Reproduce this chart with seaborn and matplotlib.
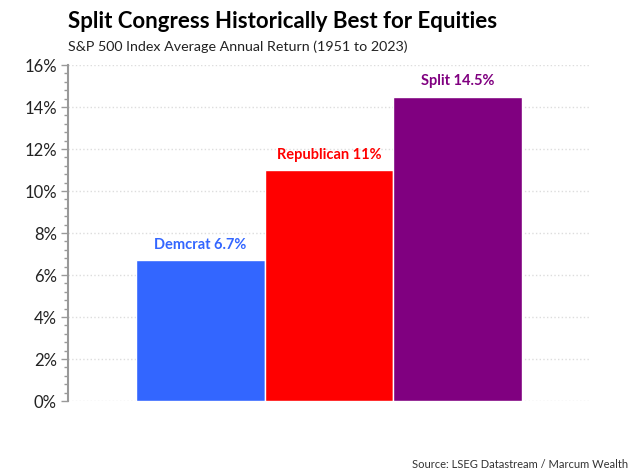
import matplotlib
matplotlib.use("Agg")
import matplotlib.pyplot as plt
import seaborn as sns
import pandas as pd
from matplotlib.ticker import MultipleLocator, FuncFormatter

categories = ["Demcrat", "Republican", "Split"]
values = [6.7, 11.0, 14.5]
label_texts = ["Demcrat 6.7%", "Republican 11%", "Split 14.5%"]
colors = ["#3366FF", "#FF0000", "#800080"]
yticks = [0, 2, 4, 6, 8, 10, 12, 14, 16]

sns.set_theme(style="white")
plt.rcParams['font.family'] = ['Lato', 'DejaVu Sans']

df = pd.DataFrame({"cat": categories, "val": values})

fig = plt.figure(figsize=(6.39, 4.71), dpi=100)
ax = fig.add_axes([68/639, 1-401/471, (591-68)/639, (401-65)/471])

sns.barplot(data=df, x="cat", y="val", hue="cat", palette=colors, width=1.0,
            edgecolor="white", linewidth=1, legend=False, ax=ax, saturation=1)

ax.set_xlim(-1.03, 3.04)
ax.set_ylim(0, 16)
ax.set_yticks(yticks)
ax.yaxis.set_major_formatter(FuncFormatter(lambda v, p: f"{v:.0f}%"))
ax.yaxis.set_minor_locator(MultipleLocator(0.4))
ax.tick_params(axis="y", which="major", length=5, width=1, color="#999999",
               labelsize=12, labelcolor="#222222", left=True, pad=3)
ax.tick_params(axis="y", which="minor", length=3, width=1, color="#999999", left=True)
ax.tick_params(axis="x", bottom=False, labelbottom=False)
ax.set_xlabel("")
ax.set_ylabel("")
ax.grid(axis="y", which="major", color="#DDDDDD", linestyle=":", linewidth=1)
ax.set_axisbelow(True)
for s in ["top", "right", "bottom"]:
    ax.spines[s].set_visible(False)
ax.spines["left"].set_color("#999999")
ax.spines["left"].set_linewidth(1.5)

for i, (v, t, c) in enumerate(zip(values, label_texts, colors)):
    ax.annotate(t, (i, v), xytext=(0, 6), textcoords="offset points",
                ha="center", va="bottom", color=c, fontsize=10.5, fontweight="bold")

fig.text(68/639, 1-21/471, "Split Congress Historically Best for Equities",
         fontsize=16, fontweight="bold", ha="left", va="center", color="#000000")
fig.text(68/639, 1-47/471, "S&P 500 Index Average Annual Return (1951 to 2023)",
         fontsize=10.3, ha="left", va="center", color="#222222")
fig.text(628/639, 1-464/471, "Source: LSEG Datastream / Marcum Wealth",
         fontsize=8, ha="right", va="center", color="#333333")

fig.savefig("out.png", dpi=100)
